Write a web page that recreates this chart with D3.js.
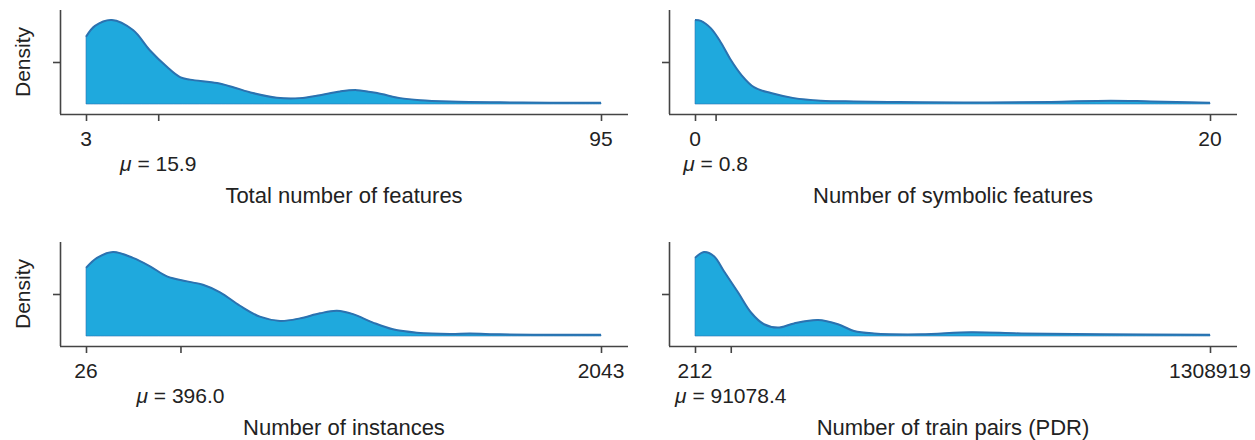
<!DOCTYPE html>
<html>
<head>
<meta charset="utf-8">
<script src="https://cdn.jsdelivr.net/npm/d3@7"></script>
<style>
  html, body { margin: 0; padding: 0; background: #fff; }
  svg { display: block; font-family: "Liberation Sans", Arial, sans-serif; }
</style>
</head>
<body>
<svg id="chart" width="1255" height="440"></svg>
<script>
// ---- Data (density normalised so the peak = 1) ----
const titles = ["Total number of features", "Number of symbolic features", "Number of instances", "Number of train pairs (PDR)"];
const minTicks = [3, 0, 26, 212];
const maxTicks = [95, 20, 2043, 1308919];
const means = [15.9, 0.8, 396.0, 91078.4];

const featX = [3, 4.6, 7.6, 11.4, 14.4, 17.5, 19.8, 21.6, 26.4, 29.3, 32.8, 37.1, 41.2, 44.8, 48.4, 51.4, 55.0, 59.1, 62.7, 68.0, 77.0, 85.9, 95];
const featD = [0.80, 0.93, 1.0, 0.88, 0.64, 0.44, 0.32, 0.29, 0.25, 0.20, 0.13, 0.075, 0.07, 0.105, 0.15, 0.165, 0.13, 0.07, 0.045, 0.03, 0.02, 0.016, 0.015];

const symX = [0, 0.23, 0.62, 1.01, 1.40, 1.79, 2.29, 2.95, 3.84, 4.89, 6.17, 7.50, 8.78, 11.38, 13.83, 16.15, 17.7, 20];
const symD = [1.0, 0.99, 0.9, 0.73, 0.52, 0.35, 0.2, 0.13, 0.07, 0.04, 0.03, 0.025, 0.02, 0.018, 0.025, 0.04, 0.03, 0.015];

const instX = [26, 69, 132, 210, 277, 343, 422, 484, 551, 629, 707, 786, 864, 942, 1009, 1072, 1150, 1228, 1322, 1452, 1530, 1647, 1843, 2043];
const instD = [0.81, 0.93, 1.0, 0.93, 0.83, 0.71, 0.65, 0.61, 0.52, 0.36, 0.23, 0.18, 0.21, 0.27, 0.30, 0.26, 0.16, 0.08, 0.04, 0.025, 0.03, 0.02, 0.015, 0.015];

const pairX = [212, 23083, 48494, 73906, 109483, 142518, 175553, 211130, 251789, 312774, 363596, 404255, 455078, 574518, 701577, 828636, 1031930, 1308919];
const pairD = [0.93, 1.0, 0.95, 0.77, 0.52, 0.28, 0.14, 0.10, 0.15, 0.19, 0.14, 0.06, 0.03, 0.02, 0.045, 0.03, 0.02, 0.015];

const seriesX = [featX, symX, instX, pairX];
const seriesD = [featD, symD, instD, pairD];

// ---- Layout ----
const svg = d3.select("#chart");
const panelOrigins = [[60, 10], [669, 10], [60, 242], [669, 242]]; // top-left of y axis line
const axisW = 568, axisH = 104, pad = 26;
const fill = "#1fa9dd", stroke = "#2b72b0", axisColor = "#444", textColor = "#222";

for (let i = 0; i < 4; i++) {
  const [ox, oy] = panelOrigins[i];
  const g = svg.append("g").attr("transform", `translate(${ox},${oy})`);
  const x = d3.scaleLinear().domain([minTicks[i], maxTicks[i]]).range([pad, pad + 515]);
  const y = d3.scaleLinear().domain([-0.119, 1.119]).range([axisH, 0]);

  const pts = seriesX[i].map((v, k) => [v, seriesD[i][k]]);
  const curve = d3.curveCatmullRom.alpha(0.5);
  const area = d3.area().x(d => x(d[0])).y0(y(0)).y1(d => y(d[1])).curve(curve);
  const line = d3.line().x(d => x(d[0])).y(d => y(d[1])).curve(curve);
  g.append("path").datum(pts).attr("d", area).attr("fill", fill)
    .attr("stroke", stroke).attr("stroke-width", 1).attr("stroke-opacity", 0.6);
  g.append("path").datum(pts).attr("d", line).attr("fill", "none").attr("stroke", stroke).attr("stroke-width", 2);

  // x axis
  const xAxis = d3.axisBottom(x).tickValues([minTicks[i], means[i], maxTicks[i]])
    .tickSize(7).tickSizeOuter(0).tickFormat(() => "");
  const xg = g.append("g").attr("transform", `translate(0,${axisH})`).call(xAxis);
  xg.select(".domain").attr("d", `M0,0.5H${axisW}`).attr("stroke", axisColor).attr("stroke-width", 1.6);
  xg.selectAll(".tick line").attr("stroke", axisColor).attr("stroke-width", 1.6);

  // tick labels for min/max
  [minTicks[i], maxTicks[i]].forEach(v => {
    g.append("text").attr("x", x(v)).attr("y", axisH + 32).attr("text-anchor", "middle")
      .attr("font-size", 21).attr("fill", textColor).text(String(v));
  });
  // mean label
  const mt = g.append("text").attr("x", x(means[i])).attr("y", axisH + 57).attr("text-anchor", "middle")
    .attr("font-size", 21).attr("fill", textColor);
  mt.append("tspan").attr("font-style", "italic").text("\u03bc");
  mt.append("tspan").text(" = " + means[i].toFixed(1));

  // x title
  g.append("text").attr("x", axisW / 2).attr("y", axisH + 89).attr("text-anchor", "middle")
    .attr("font-size", 22).attr("fill", textColor).text(titles[i]);

  // y axis
  const yAxis = d3.axisLeft(y).tickValues([0.5]).tickSize(7).tickSizeOuter(0).tickFormat(() => "");
  const yg = g.append("g").call(yAxis);
  yg.select(".domain").attr("d", `M0.5,0V${axisH}`).attr("stroke", axisColor).attr("stroke-width", 1.6);
  yg.selectAll(".tick line").attr("stroke", axisColor).attr("stroke-width", 1.6);

  if (i % 2 === 0) {
    g.append("text").attr("transform", `translate(${30 - ox},${y(0.5)}) rotate(-90)`)
      .attr("text-anchor", "middle").attr("font-size", 21).attr("fill", textColor).text("Density");
  }
}
</script>
</body>
</html>
